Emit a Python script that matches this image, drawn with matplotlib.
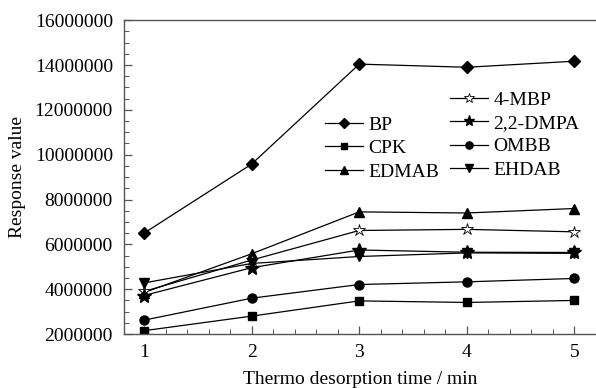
import matplotlib
matplotlib.use("Agg")
import matplotlib.pyplot as plt
from matplotlib.ticker import MultipleLocator

plt.rcParams['font.family'] = ['Liberation Serif', 'DejaVu Serif']

times = [1, 2, 3, 4, 5]
BP = [6500000, 9580000, 14040000, 13900000, 14170000]
CPK = [2150000, 2800000, 3480000, 3410000, 3500000]
EDMAB = [3850000, 5580000, 7450000, 7400000, 7600000]
MBP4 = [3900000, 5300000, 6620000, 6670000, 6560000]
DMPA22 = [3720000, 4960000, 5750000, 5650000, 5640000]
OMBB = [2620000, 3600000, 4210000, 4330000, 4480000]
EHDAB = [4280000, 5150000, 5460000, 5620000, 5600000]

fig = plt.figure(figsize=(5.96, 3.88), dpi=100)
ax = fig.add_axes([0.208, 0.139, 0.792, 0.809])

lw = 0.9
series_left = [
    ("BP", BP, dict(marker='D', ms=6.5, mfc='black')),
    ("CPK", CPK, dict(marker='s', ms=5.5, mfc='black')),
    ("EDMAB", EDMAB, dict(marker='^', ms=7, mfc='black')),
]
series_right = [
    ("4-MBP", MBP4, dict(marker='*', ms=9, mfc='white', mew=0.6)),
    ("2,2-DMPA", DMPA22, dict(marker='*', ms=10, mfc='black')),
    ("OMBB", OMBB, dict(marker='o', ms=6.5, mfc='black')),
    ("EHDAB", EHDAB, dict(marker='v', ms=7, mfc='black')),
]
hl, hr = [], []
for name, vals, kw in series_left:
    l, = ax.plot(times, vals, color='black', lw=lw, mec='black', label=name, **kw)
    hl.append(l)
for name, vals, kw in series_right:
    l, = ax.plot(times, vals, color='black', lw=lw, mec='black', label=name, **kw)
    hr.append(l)

ax.set_xlim(0.814, 5.2)
ax.set_ylim(2000000, 16000000)
ax.xaxis.set_major_locator(MultipleLocator(1))
ax.xaxis.set_minor_locator(MultipleLocator(0.2))
ax.yaxis.set_major_locator(MultipleLocator(2000000))
ax.yaxis.set_minor_locator(MultipleLocator(500000))
ax.ticklabel_format(axis='y', style='plain', useOffset=False)

for s in ['left', 'bottom', 'top']:
    ax.spines[s].set_color('#555555')
    ax.spines[s].set_linewidth(1.0)
ax.spines['right'].set_visible(False)
ax.tick_params(which='both', direction='in', colors='#555555', labelcolor='black',
               labelsize=14, top=False, right=False)
ax.tick_params(which='major', length=6, width=0.9)
ax.tick_params(which='minor', length=3.5, width=0.7)
ax.tick_params(axis='x', pad=7)
ax.tick_params(axis='y', pad=8)

ax.set_xlabel("Thermo desorption time / min", fontsize=14, labelpad=7)
ax.set_ylabel("Response value", fontsize=14, labelpad=6)

common = dict(frameon=False, fontsize=14, handlelength=1.95, handletextpad=0.28,
              labelspacing=0.3, borderaxespad=0, borderpad=0, loc='upper left',
              bbox_transform=fig.transFigure, markerscale=0.8)
leg1 = ax.legend(handles=hl, bbox_to_anchor=(325 / 596, 1 - 116 / 388), **common)
ax.add_artist(leg1)
ax.legend(handles=hr, bbox_to_anchor=(450 / 596, 1 - 91 / 388), **common)

fig.savefig("out.png", dpi=100)
